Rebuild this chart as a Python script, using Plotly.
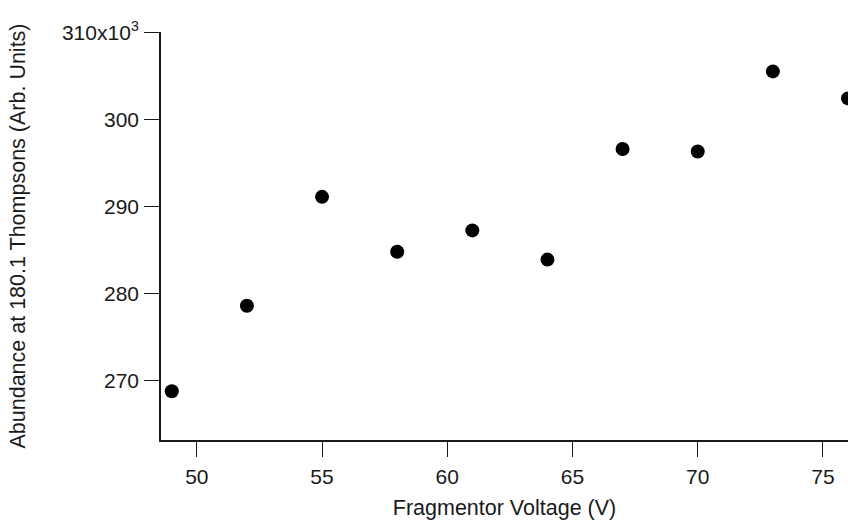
import plotly.graph_objects as go

# Fragmentor voltage sweep and measured ion abundance at m/z 180.1
voltage = [49, 52, 55, 58, 61, 64, 67, 70, 73, 76]
abundance = [268.8, 278.6, 291.1, 284.8, 287.25, 283.9, 296.6, 296.3, 305.5, 302.4]

x_ticks = [50, 55, 60, 65, 70, 75]
y_ticks = [270, 280, 290, 300, 310]
y_tick_text = ["270", "280", "290", "300", "310x10<sup>3</sup>"]

FONT = "Liberation Sans, Arial, sans-serif"

fig = go.Figure(
    go.Scatter(
        x=voltage,
        y=abundance,
        mode="markers",
        marker=dict(color="black", size=14, line=dict(width=0)),
        showlegend=False,
    )
)

fig.update_layout(
    width=848,
    height=520,
    margin=dict(l=161, r=0, t=32, b=80),
    paper_bgcolor="white",
    plot_bgcolor="white",
    font=dict(family=FONT, size=21, color="#1a1a1a"),
)

fig.update_xaxes(
    range=[48.57, 76.0],
    tickvals=x_ticks,
    ticks="outside",
    ticklen=15,
    tickwidth=1.4,
    tickcolor="#1a1a1a",
    ticklabelstandoff=2,
    showline=True,
    linecolor="#1a1a1a",
    linewidth=1.6,
    showgrid=False,
    zeroline=False,
    title=dict(text="Fragmentor Voltage (V)", font=dict(size=21.5), standoff=13),
)

fig.update_yaxes(
    range=[263.2, 310.02],
    tickvals=y_ticks,
    ticktext=y_tick_text,
    ticks="outside",
    ticklen=15,
    tickwidth=1.4,
    tickcolor="#1a1a1a",
    ticklabelstandoff=1,
    showline=True,
    linecolor="#1a1a1a",
    linewidth=1.6,
    showgrid=False,
    zeroline=False,
    title=dict(text="Abundance at 180.1 Thompsons (Arb. Units)", font=dict(size=21.5), standoff=30),
)

fig.write_html("out.html")
